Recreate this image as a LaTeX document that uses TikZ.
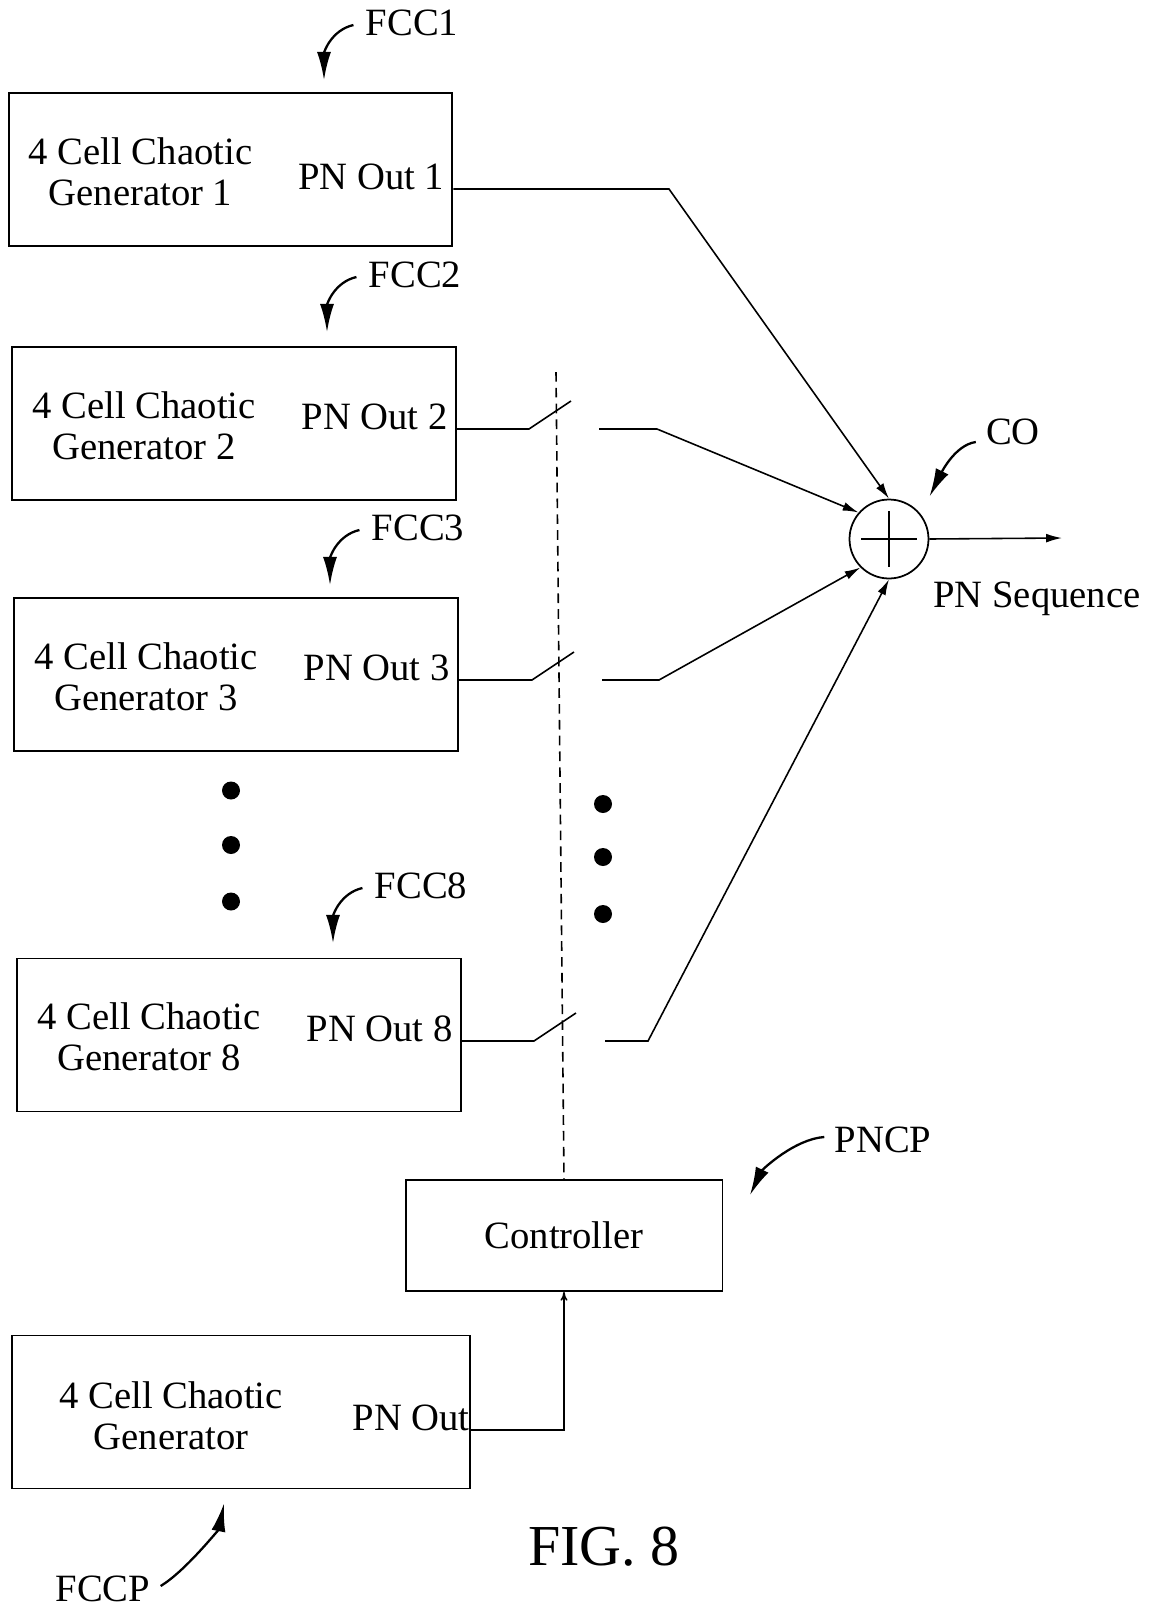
\documentclass[tikz,border=0pt]{standalone}
\usepackage{fontspec}
\setmainfont{Liberation Serif}
\usetikzlibrary{calc}
\usetikzlibrary{arrows.meta}

\tikzset{
 genbox/.style={draw, line width=1.1pt, minimum width=8.88cm, minimum height=3.06cm, inner sep=0pt},
 ctrlbox/.style={draw, line width=1.1pt, minimum width=6.34cm, minimum height=2.22cm, inner sep=0pt},
 txt/.style={font=\fontsize{22}{23.5}\selectfont, align=center, inner sep=0pt},
 wire/.style={line width=0.9pt},
 sumarrow/.style={wire, -{Latex[length=9pt,width=5pt]}},
 callout/.style={line width=1.3pt, -{Latex[length=16pt,width=8pt]}},
}

\begin{document}
\begin{tikzpicture}[x=0.02cm, y=-0.02cm]
\useasboundingbox (0,0) rectangle (1155,1610);

% adder
\node[draw, circle, line width=1pt, minimum size=1.58cm, inner sep=0pt] (co) at (889,539) {};
\draw[wire] ($(co)+(-28,0)$) -- ($(co)+(28,0)$);
\draw[wire] ($(co)+(0,-28)$) -- ($(co)+(0,28)$);
\coordinate (seq) at (1062,538);
\draw[sumarrow] (co.east) -- (seq);
\node[txt] (seqlbl) at (1037,599) {PN Sequence};
\node[txt] (colbl) at (1013,432) {CO};
\draw[callout] ($(colbl.west)+(-10,10)$) .. controls +(-22,3) and +(10,-20) .. ($(co.north east)+(12,-14)$);

% generators
\foreach \n/\cx/\cy/\ly/\fx/\fy in {1/230.5/169.5/189/412/23, 2/234/423.5/429/415/275, 3/236/674.5/680/418/528, 8/239/1035/1041/421/886} {
 \node[genbox] (g\n) at (\cx,\cy) {};
 \node[txt] (t\n) at (\cx-90,\cy+2) {4 Cell Chaotic\\Generator \n};
 \node[txt, anchor=east] (p\n) at (\cx+214,\ly-12) {PN Out \n};
 \node[txt] (f\n) at (\fx,\fy) {FCC\n};
 \draw[callout] ($(f\n.west)+(-12,2)$) .. controls +(-22,5) and +(0,-28) .. ($(f\n.center)+(-88,57)$);
}

\draw[sumarrow] (g1.east |- 0,189) -- (669,189) -- (co.north);

% switches
\foreach \n/\ly/\px/\qx/\bx/\ang in {2/429/529/599/657/139, 3/680/532/602/659/225, 8/1041/534/605/648/270} {
 \coordinate (s\n) at (\px,\ly);
 \coordinate (c\n) at (\qx,\ly);
 \draw[wire] (g\n.east |- s\n) -- (s\n) -- ++(42,-28);
 \draw[sumarrow] (c\n) -- (\bx,\ly) -- (co.\ang);
}

\foreach \y in {790.5, 845, 901.5} \fill (231,\y) circle (9);
\foreach \y in {804, 857, 914} \fill (603,\y) circle (9);

% controller
\node[ctrlbox, txt] (ctrl) at (564,1235.5) {Controller};
\draw[wire, dash pattern=on 5.5pt off 3.5pt] (556,372) -- (ctrl.north);
\node[txt] (pncp) at (883,1140) {PNCP};
\draw[callout] ($(pncp.west)+(-10,-3)$) .. controls +(-30,2) and +(12,-25) .. (750,1195);

% feedback generator
\node[genbox, minimum width=9.16cm] (gp) at (241,1412) {};
\node[txt] (tp) at (171,1416) {4 Cell Chaotic\\Generator};
\node[txt, anchor=east] (pp) at (470,1418) {PN Out};
\draw[wire, -{To[length=5pt,width=4pt]}] ($(gp.east)+(0,18)$) -| (ctrl.south);
\node[txt] (fccp) at (103,1589) {FCCP};
\draw[callout] ($(fccp.east)+(10,-3)$) .. controls +(25,-15) and +(-5,25) .. ($(gp.south)+(-17,14)$);

\node[font=\fontsize{33}{36}\selectfont, inner sep=0pt] (fig) at (604,1547) {FIG. 8};
\end{tikzpicture}
\end{document}
